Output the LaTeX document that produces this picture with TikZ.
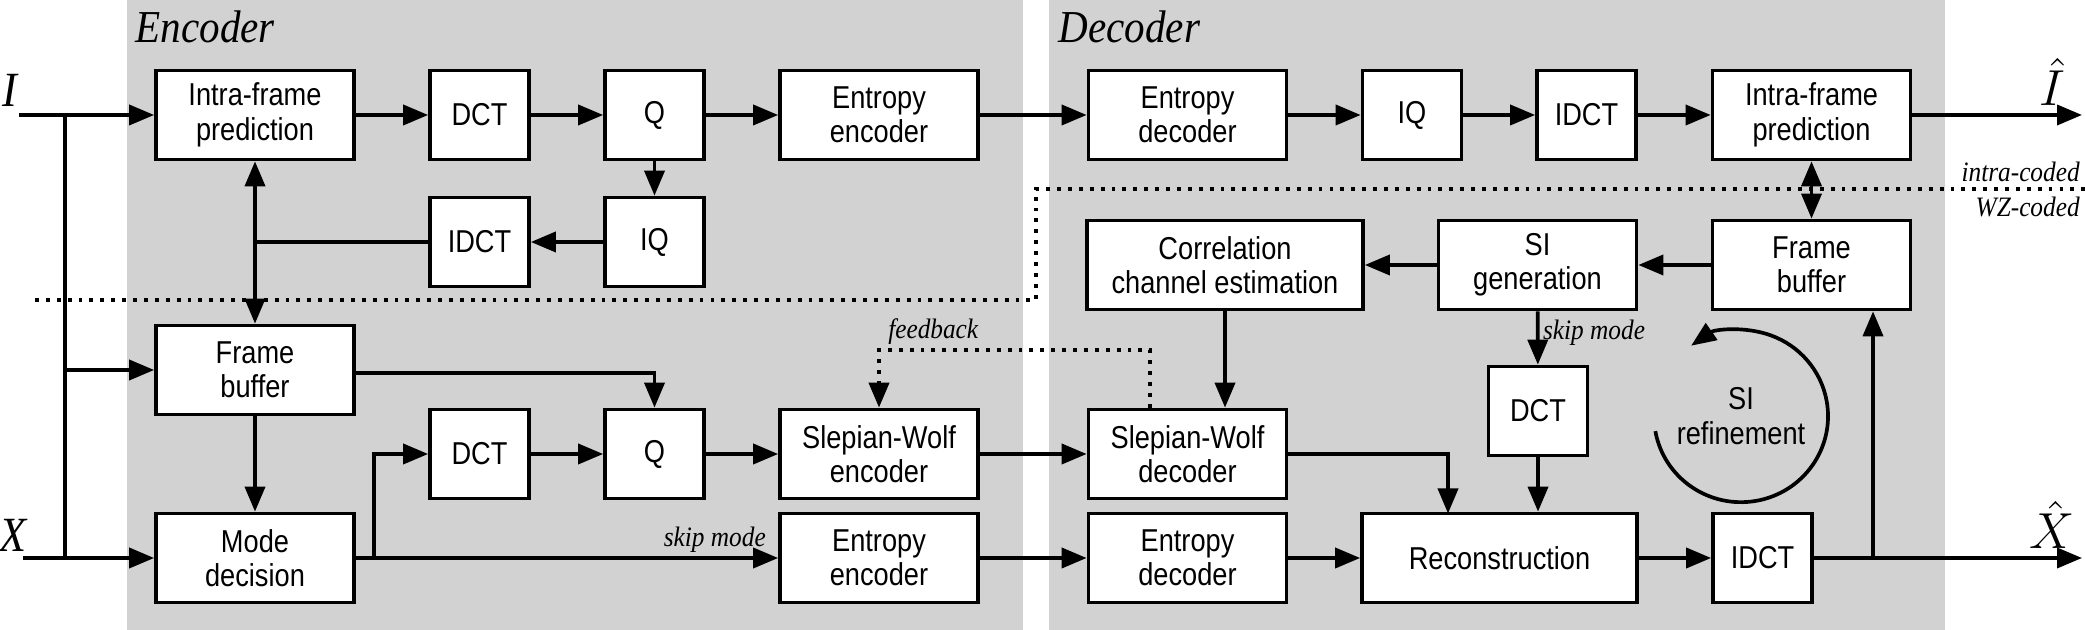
\documentclass[tikz,border=0pt]{standalone}
\usepackage{fontspec}
\setmainfont{Liberation Sans}[FakeStretch=0.86]
\newfontfamily\lblfont{Liberation Serif}[FakeStretch=0.9]
\usetikzlibrary{arrows.meta}
\begin{document}
\begin{tikzpicture}[>={Triangle[length=2.5mm,width=2mm]},line width=1.05pt,
  blk/.style={draw,fill=white,align=center,inner sep=0pt,
    minimum height=0.89cm,font=\fontsize{9}{9.8}\selectfont},
  wide/.style={blk,minimum width=1.98cm},
  narrow/.style={blk,minimum width=0.99cm},
  note/.style={font=\lblfont\itshape\fontsize{8}{9}\selectfont,inner sep=1pt},
  part/.style={font=\lblfont\itshape\fontsize{13}{14}\selectfont,anchor=north west}]
\useasboundingbox (0,0) rectangle (20.85,6.30);
% shaded halves
\fill[gray!35] (1.27,0) rectangle (10.23,6.30);
\fill[gray!35] (10.49,0) rectangle (19.45,6.30);
\node[part] at (1.22,6.33) {Encoder};
\node[part] at (10.45,6.33) {Decoder};
% encoder blocks
\node[wide]   (ipred) at (2.55,5.15)  {Intra-frame\\prediction};
\node[narrow] (dct1)  at (4.795,5.15) {DCT};
\node[narrow] (q1)    at (6.545,5.15) {Q};
\node[wide]   (ent1)  at (8.79,5.15)  {Entropy\\encoder};
\node[narrow] (iq1)   at (6.545,3.88) {IQ};
\node[narrow] (idct1) at (4.795,3.88) {IDCT};
\node[wide]   (fb1)   at (2.55,2.60)  {Frame\\buffer};
\node[narrow] (dct2)  at (4.795,1.76) {DCT};
\node[narrow] (q2)    at (6.545,1.76) {Q};
\node[wide]   (swe)   at (8.79,1.76)  {Slepian-Wolf\\encoder};
\node[wide]   (md)    at (2.55,0.72)  {Mode\\decision};
\node[wide]   (ent2)  at (8.79,0.72)  {Entropy\\encoder};
% decoder blocks
\node[wide]   (entd1) at (11.875,5.15) {Entropy\\decoder};
\node[narrow] (iq2)   at (14.12,5.15)  {IQ};
\node[narrow] (idct2) at (15.865,5.15) {IDCT};
\node[wide]   (dpred) at (18.115,5.15) {Intra-frame\\prediction};
\node[blk,minimum width=2.76cm] (cce) at (12.25,3.65) {Correlation\\channel estimation};
\node[wide]   (sig)   at (15.375,3.65) {SI\\generation};
\node[wide]   (fb2)   at (18.115,3.65) {Frame\\buffer};
\node[narrow] (dct3)  at (15.38,2.19)  {DCT};
\node[wide]   (swd)   at (11.875,1.76) {Slepian-Wolf\\decoder};
\node[wide]   (entd2) at (11.875,0.72) {Entropy\\decoder};
\node[blk,minimum width=2.75cm] (rec) at (14.995,0.72) {Reconstruction};
\node[narrow] (idct3) at (17.625,0.72) {IDCT};
\node[blk,draw=none,fill=none] (siref) at (17.41,2.14) {SI\\refinement};
% inputs and outputs
\coordinate (inI)  at (0.19,5.15);
\coordinate (inX)  at (0.23,0.72);
\coordinate (outI) at (20.82,5.15);
\coordinate (outX) at (20.82,0.72);
\coordinate (split) at (0.65,5.15);
\coordinate (mdout) at (3.74,0.72);
\coordinate (fbup) at (18.73,0.72);
\node[font=\lblfont\itshape\fontsize{14}{14}\selectfont] (lI) at (0.10,5.40) {I};
\node[font=\lblfont\itshape\fontsize{14}{14}\selectfont] (lX) at (0.13,0.95) {X};
\node (lIh) at (20.52,5.48) {\fontsize{14}{14}\selectfont$\hat{I}$};
\node (lXh) at (20.52,1.05) {\fontsize{14}{14}\selectfont$\hat{X}$};
% intra / WZ separation
\draw[dotted,line width=1.1pt] (0.35,3.30) -- (10.36,3.30) -- (10.36,4.41) -- (20.85,4.41);
\node[note,anchor=south east] (lintra) at (20.85,4.43) {intra-coded};
\node[note,anchor=north east] (lwz) at (20.85,4.38) {WZ-coded};
% encoder connections
\draw[->] (inI) -- (ipred);
\draw (split) |- (inX);
\draw[->] (inX) -- (md);
\draw[->] (split |- fb1) -- (fb1);
\draw[->] (ipred) -- (dct1);
\draw[->] (dct1) -- (q1);
\draw[->] (q1) -- (ent1);
\draw[->] (q1) -- (iq1);
\draw[->] (iq1) -- (idct1);
\draw (idct1) -- (ipred |- idct1);
\draw[<->] (ipred) -- (fb1);
\draw[->] (fb1.east |- 0,2.57) -| (q2);
\draw[->] (fb1) -- (md);
\draw[->] (mdout) |- (dct2);
\draw[->] (dct2) -- (q2);
\draw[->] (q2) -- (swe);
\draw[->] (md) -- node[note,pos=0.85,above] {skip mode} (ent2);
% links between halves
\draw[->] (ent1) -- (entd1);
\draw[->] (swe) -- (swd);
\draw[->] (ent2) -- (entd2);
\draw[->,dotted,line width=1.1pt] (swd.north -| 11.50,0) |- (8.79,2.80) node[note,above,pos=0.9] {feedback} -- (swe);
% decoder connections
\draw[->] (entd1) -- (iq2);
\draw[->] (iq2) -- (idct2);
\draw[->] (idct2) -- (dpred);
\draw[->] (dpred) -- (outI);
\draw[<->] (dpred) -- (fb2);
\draw[->] (fb2) -- (sig);
\draw[->] (sig) -- (cce);
\draw[->] (cce) -- (cce |- swd.north);
\draw[->] (sig) -- node[note,right,pos=0.4] {skip mode} (dct3);
\draw[->] (swd.east) -| (14.48,1.165);
\draw[->] (dct3) -- (dct3 |- rec.north);
\draw[->] (entd2) -- (rec);
\draw[->] (rec) -- (idct3);
\draw[->] (idct3) -- (outX);
\draw[->] (fbup) -- (fbup |- fb2.south);
\draw[->] (siref.center) ++(-170:0.87) arc[start angle=-170,end angle=125,x radius=0.87,y radius=0.86];
\end{tikzpicture}
\end{document}
